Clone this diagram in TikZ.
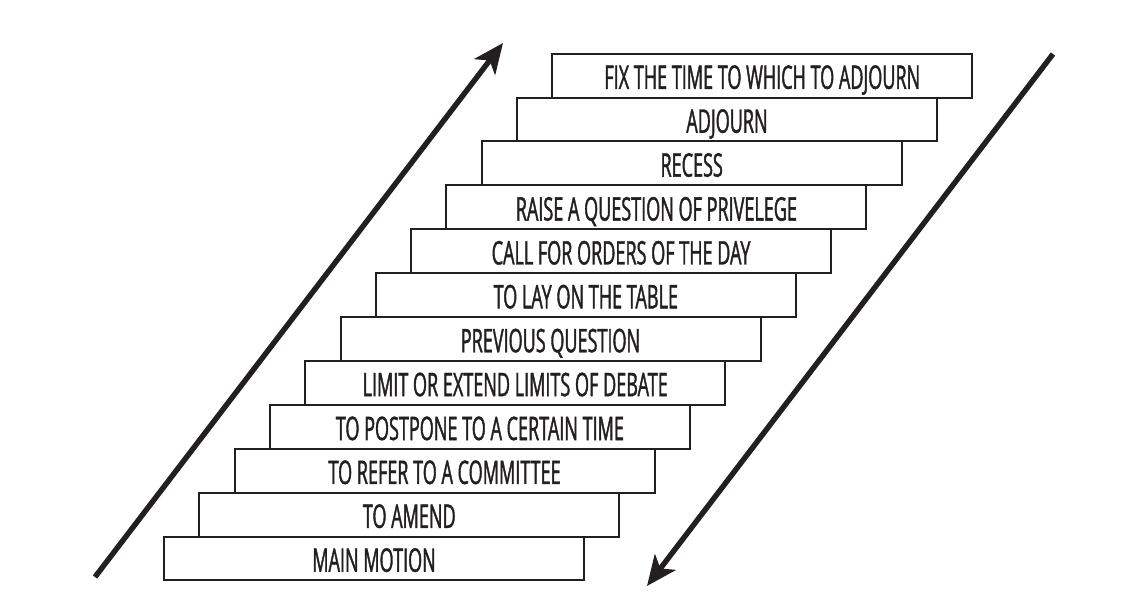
\documentclass[tikz,border=0pt]{standalone}
\usepackage{fontspec}
\newfontfamily\labfont[FakeStretch=0.555,FakeBold=1.2]{Open Sans}
\usetikzlibrary{arrows.meta}
\definecolor{ink}{HTML}{231F20}
\tikzset{
  stepbox/.style={draw=ink, line width=2pt, fill=white, minimum width=420pt, minimum height=43.9pt,
    inner sep=0pt, text height=26.5pt, text depth=0pt, font=\labfont\fontsize{32.5}{32.5}\selectfont, text=ink},
  bigarrow/.style={draw=ink, line width=5.4pt, -{Stealth[length=30pt,width=26pt,inset=8pt]}}
}
\begin{document}
\begin{tikzpicture}[x=1pt,y=-1pt]
\useasboundingbox (0,0) rectangle (1136,611);
\foreach \i/\t in {0/MAIN MOTION, 1/TO AMEND, 2/TO REFER TO A COMMITTEE, 3/TO POSTPONE TO A CERTAIN TIME,
  4/LIMIT OR EXTEND LIMITS OF DEBATE, 5/PREVIOUS QUESTION, 6/TO LAY ON THE TABLE,
  7/CALL FOR ORDERS OF THE DAY, 8/RAISE A QUESTION OF PRIVELEGE, 9/RECESS, 10/ADJOURN,
  11/FIX THE TIME TO WHICH TO ADJOURN}{
  \node[stepbox] (s\i) at ({374+35.3*\i},{558.5-43.9*\i}) {\t};
}
\coordinate (a1) at (95,577);
\coordinate (a2) at (503,43);
\coordinate (b1) at (1053,54);
\coordinate (b2) at (647,586);
\draw[bigarrow] (a1) -- (a2);
\draw[bigarrow] (b1) -- (b2);
\end{tikzpicture}
\end{document}
